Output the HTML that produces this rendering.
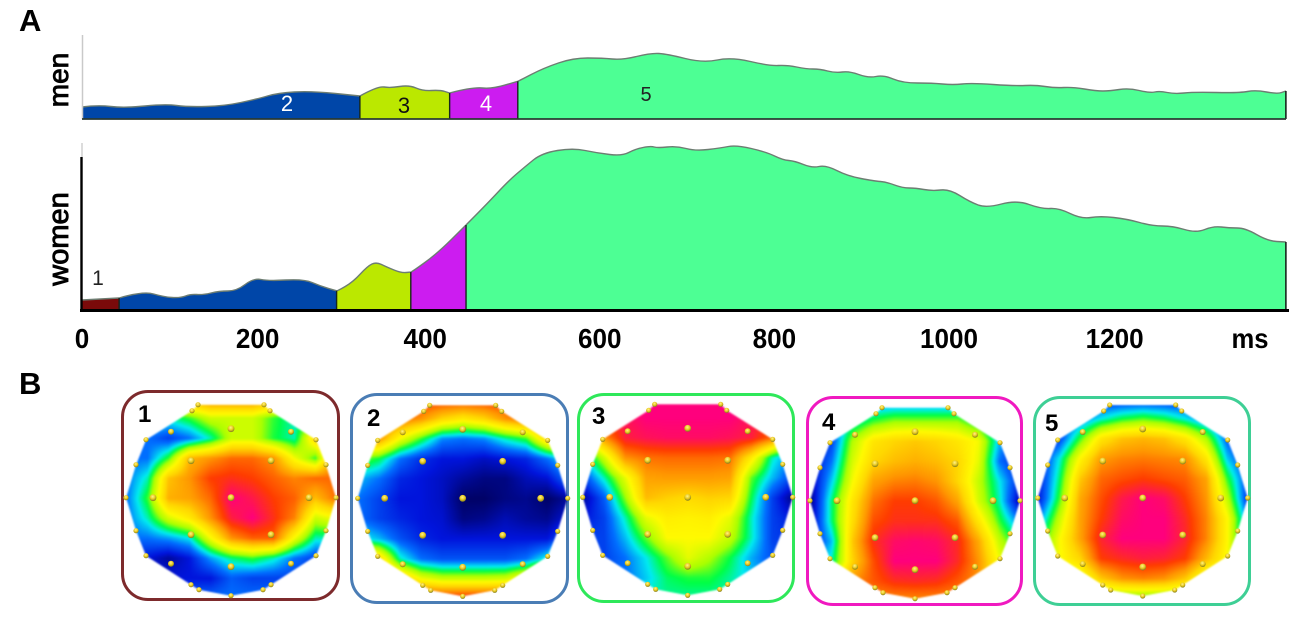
<!DOCTYPE html>
<html lang="en">
<head>
<meta charset="utf-8">
<title>ERP global field power and topographic maps</title>
<style>
html,body{margin:0;padding:0;background:#fff}
#page{position:relative;width:1299px;height:619px;overflow:hidden;background:#fff;font-family:"Liberation Sans",sans-serif}
#chart{position:absolute;left:0;top:0}
.panel{position:absolute;font-weight:bold;font-size:31px;line-height:31px;color:#000}
.box{position:absolute;box-sizing:border-box;border-style:solid;border-width:3px;border-radius:27px}
.num{position:absolute;font-weight:bold;font-size:24px;line-height:24px;color:#000}
.topo{position:absolute;width:220px;height:210px;filter:blur(.7px)}
#dots{position:absolute;left:0;top:0}
</style>
</head>
<body>
<div id="page">
  <div class="panel" style="left:19px;top:5px">A</div>
  <div class="panel" style="left:19px;top:368px">B</div>
  <svg id="chart" width="1299" height="370"></svg>

  <div class="box" style="left:121px;top:390px;width:219px;height:211px;border-color:#7d2a2c"></div>
  <div class="box" style="left:350px;top:393px;width:219px;height:211px;border-color:#4a7db5"></div>
  <div class="box" style="left:577px;top:393px;width:218px;height:210px;border-color:#2ee85a"></div>
  <div class="box" style="left:806px;top:396px;width:217px;height:210px;border-color:#f019c0"></div>
  <div class="box" style="left:1033px;top:396px;width:218px;height:210px;border-color:#3ecf95"></div>

  <canvas class="topo" id="topo1" width="220" height="210" style="left:121px;top:393px"></canvas>
  <canvas class="topo" id="topo2" width="220" height="210" style="left:353px;top:393px"></canvas>
  <canvas class="topo" id="topo3" width="220" height="210" style="left:578px;top:392px"></canvas>
  <canvas class="topo" id="topo4" width="220" height="210" style="left:805px;top:396px"></canvas>
  <canvas class="topo" id="topo5" width="220" height="210" style="left:1033px;top:393px"></canvas>
  <svg id="dots" width="1299" height="619">
    <defs>
      <radialGradient id="dotFill" cx="45%" cy="35%" r="65%">
        <stop offset="0" stop-color="#fff48a"/><stop offset=".55" stop-color="#e8c820"/><stop offset="1" stop-color="#7d7a20"/>
      </radialGradient>
    </defs>
  </svg>

  <div class="num" style="left:138px;top:403px">1</div>
  <div class="num" style="left:367px;top:407px">2</div>
  <div class="num" style="left:592px;top:405px">3</div>
  <div class="num" style="left:822px;top:411px">4</div>
  <div class="num" style="left:1045px;top:412px">5</div>
</div>

<script>
// ---- Chart data (ms, amplitude in arbitrary units) ----
const tickValues = [0, 200, 400, 600, 800, 1000, 1200];
const tickLabels = ["0", "200", "400", "600", "800", "1000", "1200"];

const menTimes = [0,18,49,97,122,165,203,227,265,322,343,357,379,395,415,426,453,475,506,535,569,603,626,659,678,720,752,797,817,839,855,873,889,911,929,951,985,1009,1031,1081,1105,1127,1148,1175,1191,1213,1237,1249,1266,1288,1341,1360,1385,1395];
const menValues = [12,14,11,15,12,13,20,26,28,23,33,31,34,28,29,26,32,30,38,51,61,61,59,66,65,56,62,53,54,50,50,46,48,41,44,36,36,34,36,33,34,31,32,28,28,31,26,28,25,27,26,29,25,28];

const womenTimes = [0,43,71,95,114,126,140,159,179,199,216,257,276,296,314,331,341,353,370,382,411,445,467,494,513,533,569,597,626,641,659,667,689,711,740,758,793,812,826,846,862,887,918,932,951,966,985,1005,1029,1048,1083,1112,1132,1158,1180,1211,1240,1264,1291,1311,1329,1348,1374,1395];
const womenValues = [10,12,19,13,12,16,15,19,19,32,29,31,24,19,28,44,48,43,37,38,56,85,104,129,143,157,162,157,154,161,164,162,164,159,162,165,158,150,149,142,145,134,129,128,122,122,119,121,108,102,110,101,102,91,94,91,84,84,77,84,82,82,69,68];

const menBoundaries = [0, 322, 426, 505, 1395];
const menColors = ["#0046a8", "#bbe800", "#cc1cf0", "#4dff94"];
const womenBoundaries = [0, 43, 295, 381, 445, 1395];
const womenColors = ["#7a0a0a", "#0046a8", "#bbe800", "#cc1cf0", "#4dff94"];

// ---- Topographic map values, 11 columns x 11 rows, 0 (navy) to 9 (pink) ----
const topoValues1 = [
[7,7,7,7,7.5,7.5,7.5,7,7,7,7],
[3,3,3,3.6,4.5,4.5,4.5,3.6,3,3,3],
[2,2,1.5,2,3,4.5,4.5,3.5,3,6,7],
[2,2,3.6,6.5,7,7.5,7.5,7,5,3.6,7.5],
[2,3,6.3,7,8,8.2,8,7.6,7.2,7.5,7.5],
[2,3.6,6.6,6.8,7.5,9,8.6,8,7.6,6.4,7.5],
[2,3,4.6,5.5,7,8.5,9,8.2,7.2,4.5,5],
[2,2,2.3,2.8,5,7,7.6,7.6,5,3,3],
[1,1,.5,1,2.3,3.2,3.6,3,2,1.5,1.5],
[1.5,1,1,1,1,1.8,1.5,1.5,1.5,1.5,1],
[2,2,2,2,2,2,2,2,2,2,2]];
const topoValues2 = [
[8.2,8.2,8.2,8.2,8.2,8.2,8.2,8.2,8.2,8.2,8.2],
[7.5,7.5,7.5,7,6,5.5,6,7,7.5,7.5,7.5],
[7,7,5,3.6,2.2,2,2.2,3,3.6,6,7],
[4,3.4,2,1.3,1,1,.8,1,1.2,2,3],
[2.5,2,1.2,1,.8,.5,.3,.3,.7,.9,2],
[2,1.5,1,1,.8,.1,.1,.3,.4,.1,.5],
[2,1.5,1.2,1,.9,.3,.4,.7,.5,.4,1],
[3,2.5,1.7,1.2,1,1,1,1,1,1,2],
[7,6,3,2,1.7,1.7,1.7,1.7,2,3,6],
[8,7.5,6.5,5,4.5,4.5,4.5,4.6,5.5,7.5,8],
[8.5,8.5,8.5,8.5,8.5,8.5,8.5,8.5,8.5,8.5,8.5]];
const topoValues3 = [
[9,9,9,9,9,9,9,9,9,9,9],
[8.5,8.5,8.7,9,9,9,9,9,8.7,8.5,8.5],
[5,7,8.5,8.7,8.8,8.8,8.8,8.7,8.5,7.5,4],
[2.5,4.5,7,7.4,7.5,7.5,7.5,7.4,5.5,3,2],
[1.5,3,4.8,6.8,6.9,6.9,6.9,6.8,3.8,2.5,1.5],
[.5,1.8,4,6.4,6.1,5.9,6.1,6,3.4,1.5,.3],
[1,1.5,3,4.8,5.4,5.3,5.4,4.8,3,1.5,1],
[1.5,1.5,2.5,3.8,5.1,5.1,5.1,4.4,3,1.5,1.3],
[1.5,1.5,2,2.8,3.8,4.8,4.2,3.4,2.4,1.7,1.5],
[2,2,2,2.6,3.3,3.5,3.5,3.1,2.6,2,2],
[3,3,3,3,3.1,3.1,3.1,3,3,3,3]];
const topoValues4 = [
[2,2,2,2,2,2,2,2,2,2,2],
[2,2,2.8,3.6,4,4,4,4,3.2,2,2],
[1,1.5,4.2,5.6,6,6.2,6,5.6,5,2.5,1],
[.7,2,4.6,6,6.4,6.6,6.4,6,4.8,2,1],
[.5,2.6,5,6.8,7.2,7.3,7,6,4.4,2.8,1.2],
[.3,3.2,5.6,7.4,8,8,7.7,6.8,4.6,3,.5],
[.5,3.2,5.8,7.8,8.2,8.2,8.2,7.7,5.6,3.6,2],
[1,2.5,6.2,8.2,8.8,8.9,8.8,8.3,6.7,4.4,3],
[2,3,6,7.8,9,9,9,8.3,7,5,4],
[5,5,7,7.7,8.2,8.3,8.2,7.7,7,5,5],
[7,7,7,7,7,7,7,7,7,7,7]];
const topoValues5 = [
[1.2,1.2,1.2,1.2,1.2,1.2,1.2,1.2,1.2,1.2,1.2],
[1.5,1.5,2,2.8,3.4,3.7,3.4,2.8,2,1.5,1.5],
[1,1.5,3.6,5.6,6.3,6.5,6.3,5.6,4.2,1.8,1],
[1,2.8,5.2,6.9,7.2,7.3,7.2,7.1,5.6,2.6,1.2],
[1,3.2,6.2,7.5,7.8,8,7.8,7.6,6.8,3.6,1.5],
[1,3.6,6.7,7.8,8.6,9,8.8,8,7,4.4,1.3],
[2,4.4,6.8,8,8.8,9,9,8.3,7.2,5.2,2],
[3,5,6.8,8.4,9,9,9,8.4,7.2,5.2,2],
[4,5,6,8,8.3,8.5,8.4,8,6.5,5,3],
[4,4,4.5,6.2,7,7.2,7,6.2,4.5,4,4],
[3.5,3.5,3.5,3.5,3.5,3.5,3.5,3.5,3.5,3.5,3.5]];

// ---- Axis functions ----
const xScale = function (t) { return 82 + t * 0.863; };
const menBase = 119;
const womenBase = 310;
const yMen = function (v) { return menBase - v; };
const yWomen = function (v) { return womenBase - v; };
// small hand-lettering offsets of the printed tick labels
const tickNudge = [0, 3, -2, 0, 2, 4, -3];

const NS = "http://www.w3.org/2000/svg";
const chart = document.getElementById("chart");

function valueAt(times, values, t) {
  if (t <= times[0]) return values[0];
  for (let i = 1; i < times.length; i++) {
    if (t <= times[i]) {
      const f = (t - times[i - 1]) / (times[i] - times[i - 1]);
      return values[i - 1] + f * (values[i] - values[i - 1]);
    }
  }
  return values[values.length - 1];
}

function curvePoints(times, values, a, b, y) {
  const pts = [[xScale(a), y(valueAt(times, values, a))]];
  for (let i = 0; i < times.length; i++) {
    if (times[i] > a && times[i] < b) pts.push([xScale(times[i]), y(values[i])]);
  }
  pts.push([xScale(b), y(valueAt(times, values, b))]);
  return pts;
}

function shape(tag, attrs) {
  const el = document.createElementNS(NS, tag);
  for (const k in attrs) el.setAttribute(k, attrs[k]);
  chart.appendChild(el);
  return el;
}

// smooth path: quadratic segments through point midpoints
function pathOf(pts) {
  let d = "M" + pts[0][0].toFixed(1) + " " + pts[0][1].toFixed(1);
  for (let i = 1; i < pts.length - 1; i++) {
    const mx = (pts[i][0] + pts[i + 1][0]) / 2, my = (pts[i][1] + pts[i + 1][1]) / 2;
    d += "Q" + pts[i][0].toFixed(1) + " " + pts[i][1].toFixed(1) + " " + mx.toFixed(1) + " " + my.toFixed(1);
  }
  const last = pts[pts.length - 1];
  return d + "L" + last[0].toFixed(1) + " " + last[1].toFixed(1);
}

function drawSeries(seriesName, times, values, bounds, colors, y, base) {
  for (let i = 0; i < colors.length; i++) {
    const pts = curvePoints(times, values, bounds[i], bounds[i + 1], y);
    const area = shape("path", {
      d: pathOf(pts) + "L" + xScale(bounds[i + 1]).toFixed(1) + " " + base + "L" + xScale(bounds[i]).toFixed(1) + " " + base + "Z",
      fill: colors[i]
    });
    
    
    const top = shape("path", { d: pathOf(pts), fill: "none", stroke: "#6d7d72", "stroke-width": 1.4 });
    
    
    if (i > 0) {
      const divider = shape("line", {
        x1: xScale(bounds[i]), x2: xScale(bounds[i]),
        y1: y(valueAt(times, values, bounds[i])), y2: base,
        stroke: "#16261c", "stroke-width": 1.4
      });
      
      
    }
  }
  const lastT = bounds[bounds.length - 1];
  const edge = shape("line", {
    x1: xScale(lastT), x2: xScale(lastT),
    y1: y(valueAt(times, values, lastT)), y2: base,
    stroke: "#16261c", "stroke-width": 1.6
  });
  
  
}

drawSeries("men", menTimes, menValues, menBoundaries, menColors, yMen, menBase);
drawSeries("women", womenTimes, womenValues, womenBoundaries, womenColors, yWomen, womenBase);

// axes
const menYAxis = shape("line", { x1: 82.5, x2: 82.5, y1: 35, y2: 119, stroke: "#c9c9c9", "stroke-width": 1.5 });


const menXAxis = shape("line", { x1: 82, x2: 1286, y1: 119, y2: 119, stroke: "#2a3a32", "stroke-width": 1.8 });


const womenYTop = shape("line", { x1: 82, x2: 82, y1: 143, y2: 157, stroke: "#d0d0d0", "stroke-width": 1.5 });


const womenYAxis = shape("line", { x1: 81.5, x2: 81.5, y1: 157, y2: 312, stroke: "#000", "stroke-width": 2.4 });


const womenXAxis = shape("line", { x1: 80, x2: 1289, y1: 310.5, y2: 310.5, stroke: "#000", "stroke-width": 3 });



function label(str, x, y, size, weight, fill, anchor, rotate) {
  const t = shape("text", {
    x: x, y: y, "font-size": size, "font-weight": weight, fill: fill,
    "text-anchor": anchor, "font-family": '"Liberation Sans", sans-serif'
  });
  if (rotate) t.setAttribute("transform", "rotate(-90 " + x + " " + y + ")");
  t.textContent = str;
  return t;
}

tickValues.forEach(function (v, i) {
  const t = label(tickLabels[i], xScale(v) + tickNudge[i], 348, 28, "bold", "#000", "middle");
  t.setAttribute("textLength", tickLabels[i].length * 14.5);
  t.setAttribute("lengthAdjust", "spacingAndGlyphs");
  
  
});
const unit = label("ms", 1250, 348, 28, "bold", "#000", "middle");
unit.setAttribute("textLength", 37);
unit.setAttribute("lengthAdjust", "spacingAndGlyphs");



const menTitle = label("men", 68, 80, 28, "normal", "#000", "middle", true);


menTitle.setAttribute("stroke", "#000");
menTitle.setAttribute("stroke-width", ".9");
const womenTitle = label("women", 68, 239, 29, "normal", "#000", "middle", true);


womenTitle.setAttribute("stroke", "#000");
womenTitle.setAttribute("stroke-width", ".9");

const seg1 = label("1", 98, 285, 21, "normal", "#222", "middle");


const seg2 = label("2", 287, 111, 22, "normal", "#fff", "middle");


const seg3 = label("3", 404, 113, 22, "normal", "#111", "middle");


const seg4 = label("4", 486, 111, 22, "normal", "#fff", "middle");


const seg5 = label("5", 646, 101, 20, "normal", "#222", "middle");



// ---- Topographic maps ----
const colorStops = [
  [0, 0, 0, 90], [1, 0, 20, 220], [2, 0, 110, 255], [2.8, 0, 235, 240], [3.4, 0, 255, 70],
  [4.1, 170, 255, 0], [5.1, 255, 250, 0], [6, 255, 215, 0], [7, 255, 150, 0], [8, 255, 60, 0], [9, 255, 0, 125]
];
function colorFor(v) {
  for (let i = 1; i < colorStops.length; i++) {
    if (v <= colorStops[i][0]) {
      const a = colorStops[i - 1], b = colorStops[i];
      const f = Math.max(0, (v - a[0]) / (b[0] - a[0]));
      return [a[1] + f * (b[1] - a[1]), a[2] + f * (b[2] - a[2]), a[3] + f * (b[3] - a[3])];
    }
  }
  return colorStops[colorStops.length - 1].slice(1);
}
const headOutline = [[-33,-93],[33,-93],[39,-87],[85,-58],[95,-33],[105,0],[95,33],[85,58],[40,87],[32,92],[0,98],[-32,92],[-40,87],[-85,58],[-95,33],[-105,0],[-95,-33],[-85,-58],[-39,-87]];
const electrodes = [[0,0,3.4],[-40,-37,3.4],[40,-37,3.4],[-40,37,3.4],[40,37,3.4],[-78,0,3.4],[78,0,3.4],[0,-69,3.4],[0,69,3.4],[-60,-66,3],[60,-66,3],[-60,66,3],[60,66,3],[-105,0,2.6],[105,0,2.6],[-95,-33,2.6],[95,-33,2.6],[-95,33,2.6],[95,33,2.6],[-85,-58,2.6],[85,-58,2.6],[-85,58,2.6],[85,58,2.6],[-33,-93,2.6],[33,-93,2.6],[-39,-87,2.6],[39,-87,2.6],[-40,87,2.6],[40,87,2.6],[-32,92,2.6],[32,92,2.6],[0,98,2.6]];
const dotLayer = document.getElementById("dots");

function drawTopo(id, grid, cx, cy) {
  const cv = document.getElementById(id);
  const ox = cx - cv.offsetLeft, oy = cy - cv.offsetTop;
  const off = document.createElement("canvas");
  off.width = 220; off.height = 210;
  const oc = off.getContext("2d");
  const img = oc.createImageData(220, 210);
  for (let py = 0; py < 210; py++) {
    for (let px = 0; px < 220; px++) {
      const gx = Math.max(0, Math.min(9.999, (px - ox + 105) / 21));
      const gy = Math.max(0, Math.min(9.999, (py - oy + 100) / 20));
      const ix = Math.floor(gx), iy = Math.floor(gy), fx = gx - ix, fy = gy - iy;
      const v = (grid[iy][ix] * (1 - fx) + grid[iy][ix + 1] * fx) * (1 - fy) +
                (grid[iy + 1][ix] * (1 - fx) + grid[iy + 1][ix + 1] * fx) * fy;
      const c = colorFor(v);
      const k = (py * 220 + px) * 4;
      img.data[k] = c[0]; img.data[k + 1] = c[1]; img.data[k + 2] = c[2]; img.data[k + 3] = 255;
    }
  }
  oc.putImageData(img, 0, 0);
  const ctx = cv.getContext("2d");
  ctx.save();
  ctx.beginPath();
  headOutline.forEach(function (p, i) {
    if (i) ctx.lineTo(ox + p[0], oy + p[1]); else ctx.moveTo(ox + p[0], oy + p[1]);
  });
  ctx.closePath();
  ctx.clip();
  ctx.drawImage(off, 0, 0);
  ctx.restore();
  electrodes.forEach(function (e) {
    const dot = document.createElementNS(NS, "circle");
    dot.setAttribute("cx", cx + e[0]);
    dot.setAttribute("cy", cy + e[1]);
    dot.setAttribute("r", e[2]);
    dot.setAttribute("fill", "url(#dotFill)");
    
    
    dotLayer.appendChild(dot);
  });
}
drawTopo("topo1", topoValues1, 231, 497.7);
drawTopo("topo2", topoValues2, 462.7, 498.3);
drawTopo("topo3", topoValues3, 687.7, 497.3);
drawTopo("topo4", topoValues4, 915, 500.7);
drawTopo("topo5", topoValues5, 1142.7, 498);
</script>
</body>
</html>
